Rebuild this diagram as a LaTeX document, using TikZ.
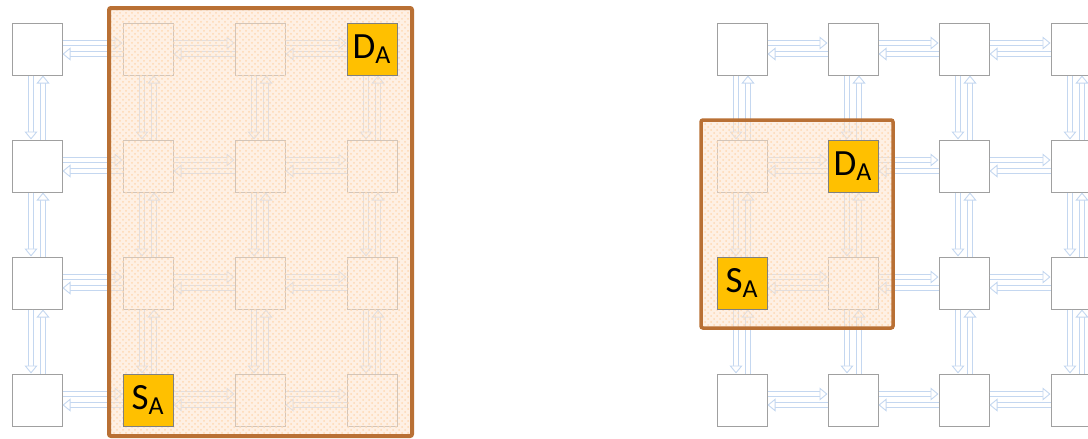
\documentclass[tikz,border=0pt]{standalone}
\usepackage{fontspec}
\setsansfont{Carlito}
\usepackage{tikz}
\usetikzlibrary{
  arrows.meta,
  positioning,
  patterns
}
\definecolor{linkblue}{RGB}{196,215,240}
\definecolor{routergray}{RGB}{160,160,160}
\definecolor{endorange}{RGB}{255,192,0}
\definecolor{regionbrown}{RGB}{185,112,52}
\definecolor{regionfill}{RGB}{253,228,206}

\begin{document}
\begin{tikzpicture}[
  x=0.5pt, y=-0.5pt,
  every node/.style={font=\sffamily},
  router/.style={draw=routergray, line width=0.5pt, minimum width=25pt,
                 minimum height=26pt, inner sep=0},
  endpoint/.style={router, fill=endorange, draw=routergray!80!black,
                   font=\sffamily\fontsize{18.5}{18.5}\selectfont},
  link/.style={draw=linkblue, line width=0.45pt, double=white,
               double distance=2.1pt,
               -{Triangle[width=6.5pt,length=4pt,fill=white]}},
  region/.style={draw=regionbrown, line width=2pt, rounded corners=1pt},
  >=Stealth
]
\useasboundingbox (0,0) rectangle (1088,439);
\clip (0,0) rectangle (1088,439);

% Routers, left and right mesh
\foreach \g/\xa/\xb/\xc/\xd in {L/37/148/260/372, R/742/853/964/1076} {
  \foreach \c/\x in {0/\xa, 1/\xb, 2/\xc, 3/\xd} {
    \foreach \r/\y in {0/49, 1/166, 2/283, 3/400} {
      \node[router] (\g\c\r) at (\x,\y) {};
    }
  }
}

% Horizontal links
\foreach \g in {L,R} {
  \foreach \c/\d in {0/1, 1/2, 2/3} {
    \foreach \r in {0,1,2,3} {
      \draw[link] ([yshift=3pt]\g\c\r.east) -- ([yshift=3pt]\g\d\r.west);
      \draw[link] ([yshift=-2.5pt]\g\d\r.west) -- ([yshift=-2.5pt]\g\c\r.east);
    }
  }
}

% Vertical links
\foreach \g in {L,R} {
  \foreach \r/\s in {0/1, 1/2, 2/3} {
    \foreach \c in {0,1,2,3} {
      \draw[link] ([xshift=-3pt]\g\c\r.south) -- ([xshift=-3pt]\g\c\s.north);
      \draw[link] ([xshift=3pt]\g\c\s.north) -- ([xshift=3pt]\g\c\r.south);
    }
  }
}

% Region fills, laid over the mesh
\fill[regionfill, opacity=0.55] (109,8) rectangle (412,436);
\fill[pattern=crosshatch dots, pattern color=orange!30] (109,8) rectangle (412,436);
\fill[regionfill, opacity=0.55] (701,120) rectangle (893,328);
\fill[pattern=crosshatch dots, pattern color=orange!30] (701,120) rectangle (893,328);

% Source and destination
\node[endpoint] (dstL) at (L30.center) {D\textsubscript{A}};
\node[endpoint] (srcL) at (L13.center) {S\textsubscript{A}};
\node[endpoint] (dstR) at (R11.center) {D\textsubscript{A}};
\node[endpoint] (srcR) at (R02.center) {S\textsubscript{A}};

% Region borders
\draw[region] (109,8) rectangle (412,436);
\draw[region, line width=1.75pt] (701,120) rectangle (893,328);

\end{tikzpicture}
\end{document}
